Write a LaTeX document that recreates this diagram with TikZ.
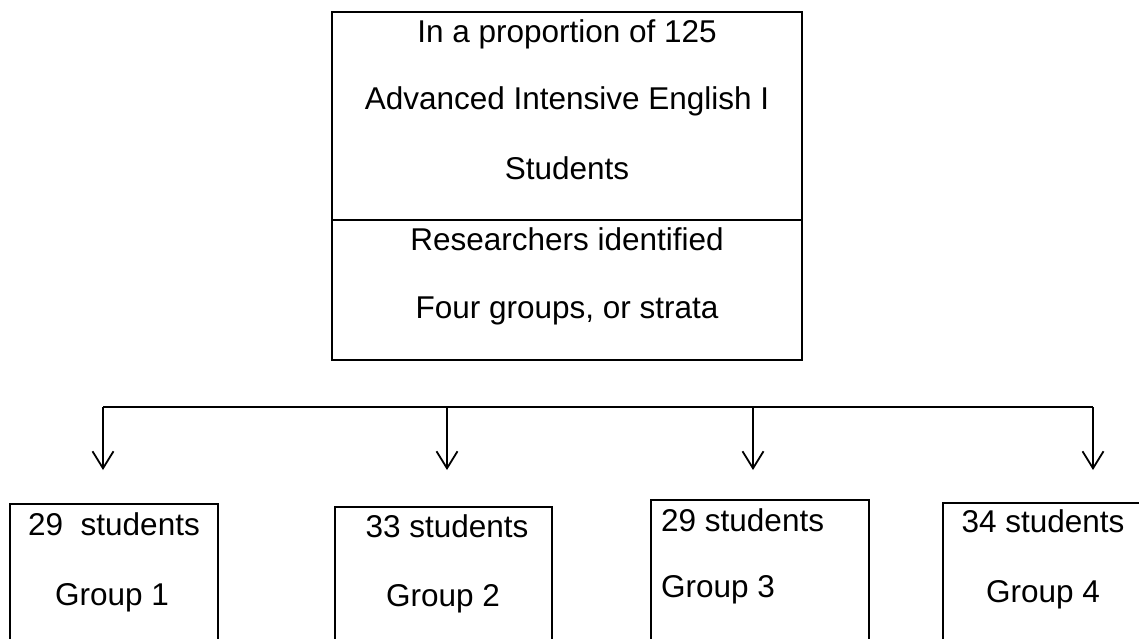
\documentclass[tikz,border=0pt]{standalone}
\usepackage{fontspec}
\setmainfont{Liberation Sans}
\usetikzlibrary{arrows.meta}
\begin{document}
\begin{tikzpicture}[x=1pt,y=-1pt,
  box/.style={draw,line width=1.8pt,inner sep=0pt},
  txt/.style={anchor=base,inner sep=0pt,font=\fontsize{31.5}{36}\selectfont},
  ltxt/.style={anchor=base west,inner sep=0pt,font=\fontsize{31.5}{36}\selectfont},
  conn/.style={line width=1.8pt},
  arr/.style={line width=1.8pt,-{Straight Barb[length=17pt,width=21pt,line width=1.8pt]}}]
\clip (0,0) rectangle (1139,639);
\fill[white] (0,0) rectangle (1139,639);
% top box
\draw[box] (332,12) rectangle (802,360);
\draw[box] (332,220) -- (802,220);
\node[txt] (t1) at (567,43) {In a proportion of 125};
\node[txt] (t2) at (567,110) {Advanced Intensive English I};
\node[txt] (t3) at (567,179) {Students};
\node[txt] (t4) at (567,250) {Researchers identified};
\node[txt] (t5) at (567,318) {Four groups, or strata};
% bracket
\coordinate (b1) at (103,407);
\coordinate (b2) at (447,407);
\coordinate (b3) at (753,407);
\coordinate (b4) at (1093,407);
\coordinate (e1) at (103,470);
\coordinate (e2) at (447,470);
\coordinate (e3) at (753,470);
\coordinate (e4) at (1093,470);
\draw[conn,line join=miter] (e1|-b1) -- (b4);
\draw[arr] (b1) -- (e1);
\draw[arr] (b2) -- (e2);
\draw[arr] (b3) -- (e3);
\draw[arr] (b4) -- (e4);
% group boxes
\draw[box] (10,504) rectangle (218,660);
\draw[box] (335,507) rectangle (552,660);
\draw[box] (651,500) rectangle (869,660);
\draw[box] (943,503) rectangle (1150,660);
\node[txt] (g1a) at (114,535) {29\ \ students};
\node[txt] (g1b) at (112,605) {Group 1};
\node[txt] (g2a) at (447,537) {33 students};
\node[txt] (g2b) at (443,606) {Group 2};
\node[ltxt] (g3a) at (661,531) {29 students};
\node[ltxt] (g3b) at (661,597) {Group 3};
\node[txt] (g4a) at (1043,532) {34 students};
\node[txt] (g4b) at (1043,602) {Group 4};
\end{tikzpicture}
\end{document}
